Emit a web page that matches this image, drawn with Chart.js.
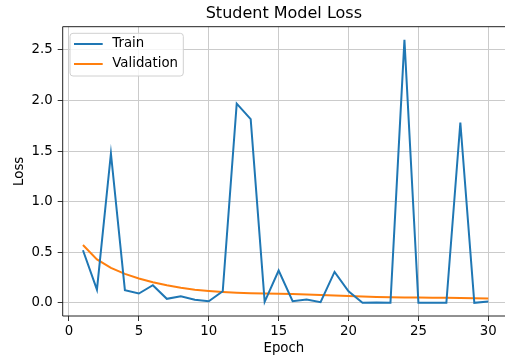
<!DOCTYPE html>
<html><head><meta charset="utf-8">
<script src="https://cdn.jsdelivr.net/npm/chart.js@4"></script>
<style>
html,body{margin:0;padding:0;background:#fff;overflow:hidden;width:505px;height:362px}
</style></head>
<body><canvas id="c" width="505" height="362"></canvas>
<script>
const epochs = [1,2,3,4,5,6,7,8,9,10,11,12,13,14,15,16,17,18,19,20,21,22,23,24,25,26,27,28,29,30];
const trainLoss = [0.52,0.13,1.477,0.125,0.092,0.174,0.04,0.066,0.03,0.016,0.115,1.97,1.816,0.01,0.32,0.016,0.033,0.007,0.306,0.115,0.0,0.003,0.0,2.60,0.0,0.0,0.0,1.783,0.0,0.013];
const valLoss = [0.572,0.43,0.345,0.286,0.24,0.204,0.174,0.15,0.13,0.118,0.108,0.10,0.095,0.092,0.09,0.088,0.083,0.078,0.072,0.068,0.062,0.058,0.055,0.053,0.052,0.051,0.050,0.049,0.046,0.043];
const xTicks = [0,5,10,15,20,25,30];
const yTicks = [0,0.5,1.0,1.5,2.0,2.5];
const seriesNames = ['Train','Validation'];
const seriesColors = ['#1f77b4','#ff7f0e'];
const titleText = 'Student Model Loss';
const xTitle = 'Epoch';
const yTitle = 'Loss';

const FONT = 'DejaVu Sans';

const framePlugin = {
  id: 'frame',
  afterDatasetsDraw(chart) {
    const {ctx, chartArea: a} = chart;
    ctx.save();
    ctx.strokeStyle = '#222';
    ctx.lineWidth = 1;
    ctx.beginPath();
    ctx.moveTo(a.left, a.top); ctx.lineTo(a.right, a.top);
    ctx.moveTo(a.left, a.top); ctx.lineTo(a.left, a.bottom);
    ctx.moveTo(a.left, a.bottom); ctx.lineTo(a.right, a.bottom);
    ctx.stroke();
    ctx.restore();
  },
  afterDraw(chart) {
    const ctx = chart.ctx;
    const bx = 70, by = 33.3, bw = 113.3, bh = 42.7, r = 3;
    ctx.save();
    ctx.beginPath();
    ctx.roundRect(bx, by, bw, bh, r);
    ctx.fillStyle = 'rgba(255,255,255,0.8)';
    ctx.fill();
    ctx.strokeStyle = '#d0d0d0';
    ctx.lineWidth = 1;
    ctx.stroke();
    const rows = [44, 64];
    chart.data.datasets.forEach((ds, i) => {
      ctx.beginPath();
      ctx.moveTo(74, rows[i]);
      ctx.lineTo(102.7, rows[i]);
      ctx.strokeStyle = ds.borderColor;
      ctx.lineWidth = 2;
      ctx.stroke();
      ctx.fillStyle = '#000';
      ctx.font = '13.3px "' + FONT + '"';
      ctx.textBaseline = 'middle';
      ctx.textAlign = 'left';
      ctx.fillText(ds.label, 112.3, rows[i]);
    });
    ctx.restore();
  }
};

const mk = (ys) => epochs.map((e, i) => ({x: e, y: ys[i]}));

new Chart(document.getElementById('c'), {
  type: 'line',
  data: {
    datasets: [
      {label: seriesNames[0], data: mk(trainLoss), borderColor: seriesColors[0], borderWidth: 2, pointRadius: 0, tension: 0, fill: false},
      {label: seriesNames[1], data: mk(valLoss), borderColor: seriesColors[1], borderWidth: 2, pointRadius: 0, tension: 0, fill: false}
    ]
  },
  options: {
    responsive: false,
    animation: false,
    devicePixelRatio: 1,
    layout: {padding: {left: 0, right: 0, top: 0, bottom: 0}},
    plugins: {
      legend: {display: false},
      tooltip: {enabled: false},
      title: {
        display: true, text: titleText, color: '#000', fullSize: false,
        font: {family: FONT, size: 16, weight: 'normal', lineHeight: 1.2},
        padding: {top: 4, bottom: 3.5}
      }
    },
    scales: {
      x: {
        type: 'linear', min: -0.45, max: 31.195,
        afterBuildTicks: (axis) => { axis.ticks = xTicks.map(v => ({value: v})); },
        afterFit: (axis) => { axis.height = 46; },
        ticks: {color: '#000', font: {family: FONT, size: 13.3}, padding: 3, maxRotation: 0, autoSkip: false,
          callback: (v) => String(v)},
        grid: {color: '#cbcbcb', lineWidth: 1, drawTicks: true, tickLength: 5, tickColor: '#333', tickWidth: 1},
        border: {display: false},
        title: {display: true, text: xTitle, color: '#000', font: {family: FONT, size: 13.3, lineHeight: 1.2}, padding: {top: 0, bottom: 5}}
      },
      y: {
        type: 'linear', min: -0.13, max: 2.73,
        afterBuildTicks: (axis) => { axis.ticks = yTicks.map(v => ({value: v})); },
        afterFit: (axis) => { axis.width = 62.7; },
        ticks: {color: '#000', font: {family: FONT, size: 13.3}, padding: 5,
          callback: (v) => Number(v).toFixed(1)},
        grid: {color: '#cbcbcb', lineWidth: 1, drawTicks: true, tickLength: 5, tickColor: '#333', tickWidth: 1},
        border: {display: false},
        title: {display: true, text: yTitle, color: '#000', font: {family: FONT, size: 13.3, lineHeight: 1.2}, padding: {top: 12, bottom: 0}}
      }
    }
  },
  plugins: [framePlugin]
});
</script>
</body></html>
